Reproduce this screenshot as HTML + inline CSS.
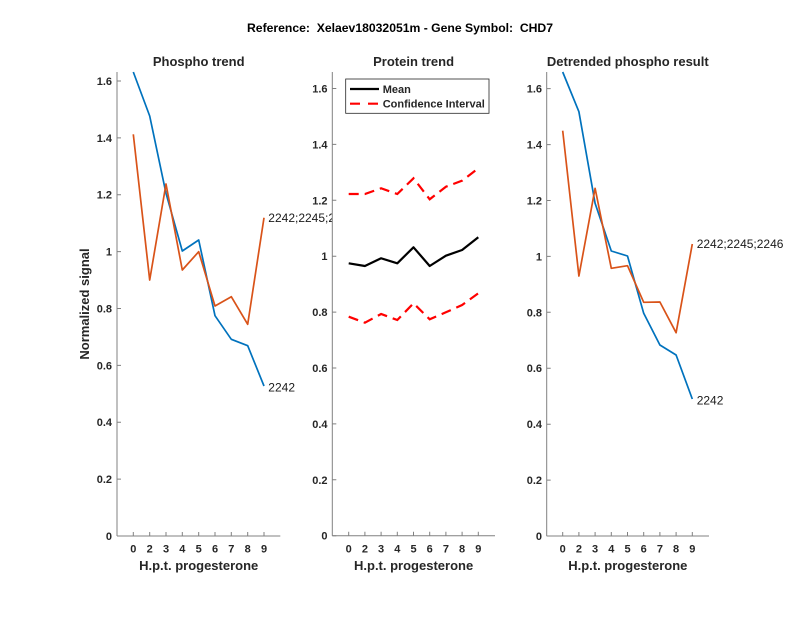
<!DOCTYPE html>
<html><head><meta charset="utf-8"><style>
html,body{margin:0;padding:0;background:#fff;}
svg{display:block;}
text{font-family:"Liberation Sans",Arial,sans-serif;}
.t{font-size:11px;font-weight:bold;fill:#262626;}
.lab{font-size:13px;font-weight:bold;fill:#262626;}
.dl{font-size:12px;fill:#1a1a1a;}
</style></head><body>
<svg width="800" height="618" viewBox="0 0 800 618" xmlns="http://www.w3.org/2000/svg">
<rect width="800" height="618" fill="#fff"/>
<text x="400" y="32" text-anchor="middle" font-size="12.2" font-weight="bold" fill="#000" textLength="306" lengthAdjust="spacingAndGlyphs" xml:space="preserve">Reference:  Xelaev18032051m - Gene Symbol:  CHD7</text>

<!-- LEFT PANEL -->
<g>
<text class="lab" x="198.7" y="66" text-anchor="middle" fill="#000">Phospho trend</text>
<g stroke="#808080" stroke-width="1" fill="none">
<line x1="117" y1="72" x2="117" y2="536"/>
<line x1="117" y1="536" x2="280.3" y2="536"/>
<path d="M117 536h4M117 479.1h4M117 422.2h4M117 365.4h4M117 308.5h4M117 251.6h4M117 194.7h4M117 137.9h4M117 81h4"/>
<path d="M133.3 536v-4M149.7 536v-4M166 536v-4M182.3 536v-4M198.7 536v-4M215 536v-4M231.3 536v-4M247.7 536v-4M264 536v-4"/>
</g>
<g class="t" text-anchor="end">
<text x="112" y="540">0</text><text x="112" y="483.1">0.2</text><text x="112" y="426.2">0.4</text><text x="112" y="369.4">0.6</text><text x="112" y="312.5">0.8</text><text x="112" y="255.6">1</text><text x="112" y="198.7">1.2</text><text x="112" y="141.9">1.4</text><text x="112" y="85">1.6</text>
</g>
<g class="t" text-anchor="middle">
<text x="133.3" y="552.5">0</text><text x="149.7" y="552.5">2</text><text x="166" y="552.5">3</text><text x="182.3" y="552.5">4</text><text x="198.7" y="552.5">5</text><text x="215" y="552.5">6</text><text x="231.3" y="552.5">7</text><text x="247.7" y="552.5">8</text><text x="264" y="552.5">9</text>
</g>
<text class="lab" x="198.7" y="570" text-anchor="middle">H.p.t. progesterone</text>
<text class="lab" transform="translate(89,304) rotate(-90)" text-anchor="middle">Normalized signal</text>
<polyline fill="none" stroke="#0072BD" stroke-width="1.7" stroke-linejoin="round" points="133.3,72 149.7,116 166,193.3 182.3,251 198.7,240 215,315.7 231.3,339.3 247.7,345.7 264,386"/>
<polyline fill="none" stroke="#D95319" stroke-width="1.7" stroke-linejoin="round" points="133.3,134.3 149.7,280 166,184 182.3,270 198.7,251.7 215,306 231.3,296.7 247.7,324.3 264,217.7"/>
<text class="dl" x="268.3" y="222">2242;2245;2246</text>
<text class="dl" x="268.3" y="391.3">2242</text>
</g>

<!-- MIDDLE PANEL -->
<g>
<rect x="332.3" y="72" width="163" height="464" fill="#fff"/>
<text class="lab" x="413.6" y="66" text-anchor="middle" fill="#000">Protein trend</text>
<g stroke="#808080" stroke-width="1" fill="none">
<line x1="332.3" y1="72" x2="332.3" y2="535.7"/>
<line x1="332.3" y1="535.7" x2="495" y2="535.7"/>
<path d="M332.3 535.7h4M332.3 479.8h4M332.3 423.9h4M332.3 368h4M332.3 312.1h4M332.3 256.2h4M332.3 200.3h4M332.3 144.4h4M332.3 88.5h4"/>
<path d="M348.7 535.7v-4M364.9 535.7v-4M381.1 535.7v-4M397.3 535.7v-4M413.5 535.7v-4M429.7 535.7v-4M445.9 535.7v-4M462.1 535.7v-4M478.3 535.7v-4"/>
</g>
<g class="t" text-anchor="end">
<text x="327.5" y="539.7">0</text><text x="327.5" y="483.8">0.2</text><text x="327.5" y="427.9">0.4</text><text x="327.5" y="372">0.6</text><text x="327.5" y="316.1">0.8</text><text x="327.5" y="260.2">1</text><text x="327.5" y="204.3">1.2</text><text x="327.5" y="148.4">1.4</text><text x="327.5" y="92.5">1.6</text>
</g>
<g class="t" text-anchor="middle">
<text x="348.7" y="552.5">0</text><text x="364.9" y="552.5">2</text><text x="381.1" y="552.5">3</text><text x="397.3" y="552.5">4</text><text x="413.5" y="552.5">5</text><text x="429.7" y="552.5">6</text><text x="445.9" y="552.5">7</text><text x="462.1" y="552.5">8</text><text x="478.3" y="552.5">9</text>
</g>
<text class="lab" x="413.6" y="570" text-anchor="middle">H.p.t. progesterone</text>
<polyline fill="none" stroke="#000" stroke-width="2.2" stroke-linejoin="round" points="348.7,263.3 364.9,266 381.1,258.3 397.3,263.3 413.5,247.3 429.7,266 445.9,255.7 462.1,250 478.3,237.3"/>
<polyline fill="none" stroke="#FF0000" stroke-width="2.2" stroke-dasharray="10 6" points="348.7,194 364.9,194 381.1,188.3 397.3,194 413.5,178.3 429.7,199.3 445.9,186.7 462.1,180.7 478.3,168.3"/>
<polyline fill="none" stroke="#FF0000" stroke-width="2.2" stroke-dasharray="10 6" points="348.7,316.7 364.9,322.7 381.1,314 397.3,320 413.5,303.3 429.7,319.3 445.9,312.3 462.1,305 478.3,293.3"/>
<rect x="345.7" y="79" width="143.3" height="34.3" fill="#fff" stroke="#262626" stroke-width="0.8"/>
<line x1="350" y1="89" x2="379" y2="89" stroke="#000" stroke-width="2.2"/>
<line x1="350" y1="103.7" x2="379" y2="103.7" stroke="#FF0000" stroke-width="2.2" stroke-dasharray="10 8"/>
<text class="t" x="382.7" y="93" fill="#000">Mean</text>
<text class="t" x="382.7" y="107.7" fill="#000">Confidence Interval</text>
</g>

<!-- RIGHT PANEL -->
<g>
<text class="lab" x="627.8" y="66" text-anchor="middle" fill="#000">Detrended phospho result</text>
<g stroke="#808080" stroke-width="1" fill="none">
<line x1="546.7" y1="72" x2="546.7" y2="536"/>
<line x1="546.7" y1="536" x2="709" y2="536"/>
<path d="M546.7 536h4M546.7 480.1h4M546.7 424.2h4M546.7 368.2h4M546.7 312.3h4M546.7 256.4h4M546.7 200.5h4M546.7 144.6h4M546.7 88.6h4"/>
<path d="M562.7 536v-4M578.9 536v-4M595.1 536v-4M611.3 536v-4M627.5 536v-4M643.7 536v-4M659.9 536v-4M676.1 536v-4M692.3 536v-4"/>
</g>
<g class="t" text-anchor="end">
<text x="542" y="540">0</text><text x="542" y="484.1">0.2</text><text x="542" y="428.2">0.4</text><text x="542" y="372.2">0.6</text><text x="542" y="316.3">0.8</text><text x="542" y="260.4">1</text><text x="542" y="204.5">1.2</text><text x="542" y="148.6">1.4</text><text x="542" y="92.6">1.6</text>
</g>
<g class="t" text-anchor="middle">
<text x="562.7" y="552.5">0</text><text x="578.9" y="552.5">2</text><text x="595.1" y="552.5">3</text><text x="611.3" y="552.5">4</text><text x="627.5" y="552.5">5</text><text x="643.7" y="552.5">6</text><text x="659.9" y="552.5">7</text><text x="676.1" y="552.5">8</text><text x="692.3" y="552.5">9</text>
</g>
<text class="lab" x="627.8" y="570" text-anchor="middle">H.p.t. progesterone</text>
<polyline fill="none" stroke="#0072BD" stroke-width="1.7" stroke-linejoin="round" points="562.7,72 578.9,111.7 595.1,203.3 611.3,251 627.5,256 643.7,313.3 659.9,345 676.1,355 692.3,399"/>
<polyline fill="none" stroke="#D95319" stroke-width="1.7" stroke-linejoin="round" points="562.7,130.7 578.9,276 595.1,188.3 611.3,268.3 627.5,265.7 643.7,302.3 659.9,302 676.1,332.7 692.3,244"/>
<text class="dl" x="696.7" y="248">2242;2245;2246</text>
<text class="dl" x="696.7" y="404.7">2242</text>
</g>
</svg>
</body></html>
